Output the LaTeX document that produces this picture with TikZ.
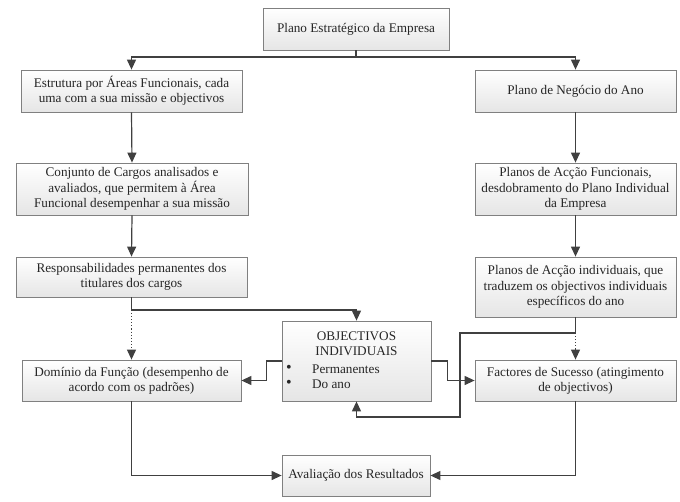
\documentclass[tikz,border=0pt]{standalone}
\usepackage{fontspec}
\setmainfont{Liberation Serif}
\usetikzlibrary{arrows.meta,positioning}
\begin{document}
\begin{tikzpicture}[x=1pt,y=-1pt,
  box/.style={draw=black!50,line width=0.8pt,top color=white,bottom color=black!10,
    align=center,inner sep=0pt,font=\fontsize{13.2}{15.2}\selectfont,text=black!85},
  arr/.style={draw=black!75,line width=1.2pt,-{Triangle[length=10pt,width=9pt]}},
  darr/.style={draw=black!75,line width=1.1pt,dotted,-{Triangle[length=10pt,width=9pt]}},
  conn/.style={draw=black!75,line width=1.2pt},
  txt/.style={inner sep=0pt,font=\fontsize{13.2}{15.2}\selectfont,text=black!85}]
\useasboundingbox (0,0) rectangle (680,501);
% boxes
\node[box,minimum width=186pt,minimum height=42pt] (top) at (356,29) {Plano Estratégico da Empresa};
\node[box,minimum width=221pt,minimum height=42pt] (L1) at (131.5,91) {Estrutura por Áreas Funcionais, cada\\uma com a sua missão e objectivos};
\node[box,minimum width=201pt,minimum height=42pt] (R1) at (575.5,91) {Plano de Negócio do Ano};
\node[box,minimum width=232pt,minimum height=52pt] (L2) at (132,189) {Conjunto de Cargos analisados e\\avaliados, que permitem à Área\\Funcional desempenhar a sua missão};
\node[box,minimum width=201pt,minimum height=52pt] (R2) at (575.5,189) {Planos de Acção Funcionais,\\desdobramento do Plano Individual\\da Empresa};
\node[box,minimum width=231pt,minimum height=40pt] (L3) at (131.5,277) {Responsabilidades permanentes dos\\titulares dos cargos};
\node[box,minimum width=201pt,minimum height=60pt] (R3) at (575.5,287) {Planos de Acção individuais, que\\traduzem os objectivos individuais\\específicos do ano};
\node[box,minimum width=219pt,minimum height=41pt] (L4) at (131.5,380.5) {Domínio da Função (desempenho de\\acordo com os padrões)};
\node[box,minimum width=201pt,minimum height=41pt] (R4) at (575.5,380.5) {Factores de Sucesso (atingimento\\de objectivos)};
\node[box,minimum width=149pt,minimum height=80pt] (OBJ) at (356.5,361) {};
\node[box,minimum width=148pt,minimum height=41pt] (AV) at (356,475.5) {Avaliação dos Resultados};
% OBJ contents
\node[txt,align=center] (objt) at (356.5,344) {OBJECTIVOS\\INDIVIDUAIS};
\node[txt,font=\fontsize{16}{16}\selectfont] (b1) at (289,369) {\textbullet};
\node[txt,font=\fontsize{16}{16}\selectfont] (b2) at (289,384) {\textbullet};
\node[txt,anchor=west] (p1) at (312,369) {Permanentes};
\node[txt,anchor=west] (p2) at (312,384) {Do ano};
% connectors
\coordinate (j) at (356,57);
\draw[conn] (top.south) -- (j);
\draw[arr] (j) -| (L1.north);
\draw[arr] (j) -| (R1.north);
\draw[arr] (L1.south) -- (L2.north);
\draw[arr] (L2.south) -- (L3.north);
\draw[arr] (R1.south) -- (R2.north);
\draw[arr] (R2.south) -- (R3.north);
\draw[darr] (L3.south) -- (L4.north);
\draw[darr] (R3.south) -- (R4.north);
\coordinate (c1) at (131.5,310);
\draw[arr] (L3.south) -- (c1) -| (OBJ.north);
\draw[arr] (OBJ.west) -- ++(-15,0) |- (L4.east);
\draw[arr] (OBJ.east) -- ++(16,0) |- (R4.west);
\coordinate (c2) at (575.5,333);
\coordinate (c3) at (460,417);
\draw[arr] (R3.south) -- (c2) -| (c3) -| (OBJ.south);
\draw[arr] (L4.south) |- (AV.west);
\draw[arr] (R4.south) |- (AV.east);
\end{tikzpicture}
\end{document}
